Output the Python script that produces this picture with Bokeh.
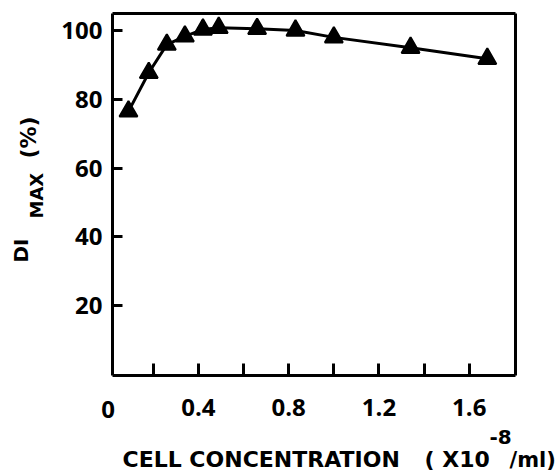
import math
from bokeh.plotting import figure
from bokeh.models import Range1d, FixedTicker, Label, LinearAxis
from bokeh.embed import file_html
from bokeh.resources import INLINE

# data
conc = [0.09, 0.18, 0.26, 0.34, 0.42, 0.49, 0.66, 0.83, 1.00, 1.34, 1.68]
di_max = [76.5, 87.7, 95.9, 98.3, 100.3, 100.8, 100.5, 100.0, 98.0, 95.0, 91.8]
x_label_ticks = [0.4, 0.8, 1.2, 1.6]
x_minor_ticks = [0.2, 0.6, 1.0, 1.4]
y_ticks = [20, 40, 60, 80, 100]

FONT = "Open Sans"
TFONT = "DejaVu Sans"
W, H = 557, 474
# axis box limits (data units)
X_LO, X_HI = 0.019, 1.805
Y_LO, Y_HI = -0.29, 104.9

p = figure(frame_width=W, frame_height=H,
           x_range=Range1d(-0.477, 1.991), y_range=Range1d(-29.07, 108.72),
           output_backend="svg", toolbar_location=None,
           min_border_left=0, min_border_right=0,
           min_border_top=0, min_border_bottom=0)
p.xgrid.visible = False
p.ygrid.visible = False
p.outline_line_color = None

xa = p.xaxis[0]
xa.fixed_location = Y_LO
xa.bounds = (X_LO, X_HI)
xa.ticker = FixedTicker(ticks=x_label_ticks, minor_ticks=x_minor_ticks)
xa.axis_line_width = 3
xa.major_tick_in = 12
xa.major_tick_out = 0
xa.minor_tick_in = 12
xa.minor_tick_out = 0
xa.major_tick_line_width = 3
xa.minor_tick_line_width = 3
xa.major_label_text_font = FONT
xa.major_label_text_font_style = "bold"
xa.major_label_text_font_size = "24px"
xa.major_label_text_color = "black"
xa.major_label_standoff = 24

ya = p.yaxis[0]
ya.fixed_location = X_LO
ya.bounds = (Y_LO, Y_HI)
ya.ticker = FixedTicker(ticks=y_ticks, minor_ticks=[])
ya.axis_line_width = 3
ya.major_tick_in = 10
ya.major_tick_out = 0
ya.major_tick_line_width = 3
ya.major_label_text_font = FONT
ya.major_label_text_font_style = "bold"
ya.major_label_text_font_size = "24px"
ya.major_label_text_color = "black"
ya.major_label_standoff = 10

# box edges (top / right) as bare axes
top_ax = LinearAxis(ticker=FixedTicker(ticks=[]), axis_line_width=3,
                    major_label_text_font_size="0px",
                    major_tick_line_color=None, minor_tick_line_color=None,
                    fixed_location=Y_HI, bounds=(X_LO, X_HI))
right_ax = LinearAxis(ticker=FixedTicker(ticks=[]), axis_line_width=3,
                      major_label_text_font_size="0px",
                      major_tick_line_color=None, minor_tick_line_color=None,
                      fixed_location=X_HI, bounds=(Y_LO, Y_HI))
p.add_layout(top_ax, "above")
p.add_layout(right_ax, "right")

p.line(conc, di_max, line_color="black", line_width=3)
p.scatter(conc, di_max, marker="triangle", size=18, fill_color="black",
          line_color="black", line_width=2)

def lab(text, x, y, size, angle=0.0, xu="screen", align="left", font=TFONT):
    p.add_layout(Label(x=x, y=y, x_units=xu, y_units="screen", text=text,
                       text_font=font, text_font_style="bold",
                       text_font_size=size, text_color="black",
                       text_align=align, text_baseline="alphabetic",
                       angle=angle))

# "0" tick label (left of the axis box)
lab("0", 0.0, 65, "24px", xu="data", align="center", font=FONT)

# x axis title
lab("CELL CONCENTRATION", 122, 15, "22px")
lab("( X10", 424, 15, "22px")
lab("-8", 489, 38, "20px")
lab("/ml)", 509, 15, "21px")

# y axis title (rotated)
lab("DI", 20, 212, "20px", angle=math.pi / 2)
lab("MAX", 36, 256, "18px", angle=math.pi / 2)
lab("(%)", 28, 316, "22px", angle=math.pi / 2)

open("out.html", "w").write(file_html(p, INLINE))
